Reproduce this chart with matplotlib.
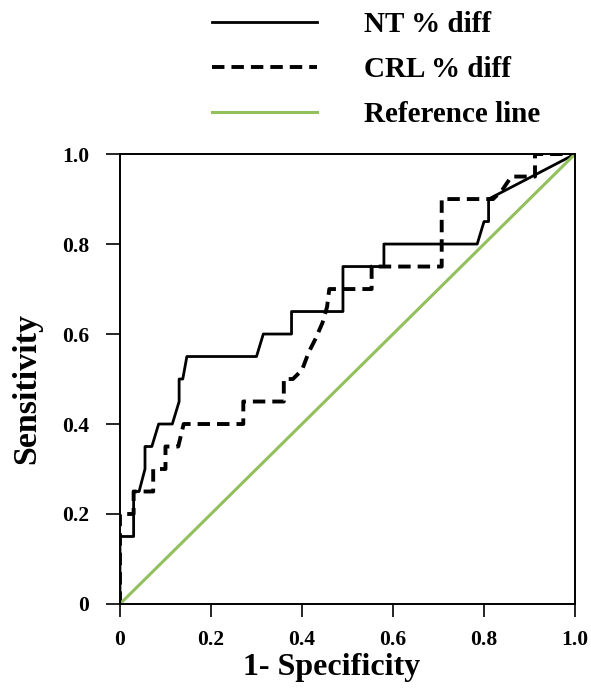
import numpy as np
import matplotlib
matplotlib.use("Agg")
import matplotlib.pyplot as plt

# ---------------------------------------------------------
# data
# ---------------------------------------------------------
nt_fpr = [0, 0, 0.03, 0.03, 0.042, 0.055, 0.055, 0.07, 0.085, 0.115, 0.13, 0.13,
          0.138, 0.147, 0.30, 0.315, 0.377, 0.377, 0.49, 0.49, 0.58, 0.58,
          0.785, 0.80, 0.81, 0.81, 1.0]
nt_tpr = [0, 0.15, 0.15, 0.25, 0.25, 0.30, 0.35, 0.35, 0.40, 0.40, 0.45, 0.50,
          0.50, 0.55, 0.55, 0.60, 0.60, 0.65, 0.65, 0.75, 0.75, 0.80,
          0.80, 0.85, 0.85, 0.90, 1.0]

crl_fpr = [0, 0, 0.03, 0.03, 0.073, 0.073, 0.10, 0.10, 0.128, 0.14, 0.271, 0.271,
           0.36, 0.36, 0.38, 0.40, 0.415, 0.43, 0.445, 0.455, 0.46, 0.553, 0.553,
           0.707, 0.707, 0.82, 0.84, 0.86, 0.912, 0.912, 1.0]
crl_tpr = [0, 0.20, 0.20, 0.25, 0.25, 0.30, 0.30, 0.35, 0.35, 0.40, 0.40, 0.45,
           0.45, 0.50, 0.50, 0.52, 0.56, 0.59, 0.625, 0.66, 0.70, 0.70, 0.75,
           0.75, 0.90, 0.90, 0.92, 0.95, 0.95, 1.0, 1.0]

ref_x = [0, 1]
ref_y = [0, 1]

ticks = [0, 0.2, 0.4, 0.6, 0.8, 1.0]
tick_labels = ["0", "0.2", "0.4", "0.6", "0.8", "1.0"]

# ---------------------------------------------------------
# figure
# ---------------------------------------------------------
plt.rcParams["font.family"] = ["Liberation Serif", "DejaVu Serif"]
plt.rcParams["font.weight"] = "bold"

fig = plt.figure(figsize=(5.91, 6.89), dpi=100)
ax = fig.add_axes([0.203, 0.1234, 0.770, 0.653])

ax.plot(nt_fpr, nt_tpr, color="black", lw=2.0, label="NT % diff")
ax.plot(crl_fpr, crl_tpr, color="black", lw=2.8, linestyle=(0, (3.2, 1.8)),
        label="CRL % diff")
ax.plot(ref_x, ref_y, color="#92c05c", lw=2.2, label="Reference line")

ax.set_xlim(0, 1)
ax.set_ylim(0, 1)
ax.set_xticks(ticks)
ax.set_xticklabels(tick_labels)
ax.set_yticks(ticks)
ax.set_yticklabels(tick_labels)
ax.tick_params(axis="y", length=10, width=1.2, pad=12, labelsize=15.5)
ax.tick_params(axis="x", length=9, width=1.2, pad=10, labelsize=15.5)
for lab in ax.get_xticklabels() + ax.get_yticklabels():
    lab.set_fontweight("bold")

for sp in ax.spines.values():
    sp.set_linewidth(1.4)

ax.set_xlabel("1- Specificity", fontsize=23, fontweight="bold")
ax.xaxis.set_label_coords(0.464, -0.108)
ax.set_ylabel("Sensitivity", fontsize=24.5, fontweight="bold")
ax.yaxis.set_label_coords(-0.171, 0.48)

leg = fig.legend(loc="upper left", bbox_to_anchor=(0.358, 0.984),
                 frameon=False, fontsize=21, handlelength=3.6,
                 handletextpad=1.64, labelspacing=0.62, borderpad=0,
                 borderaxespad=0)
for t in leg.get_texts():
    t.set_fontweight("bold")

fig.savefig("out.png", dpi=100)
